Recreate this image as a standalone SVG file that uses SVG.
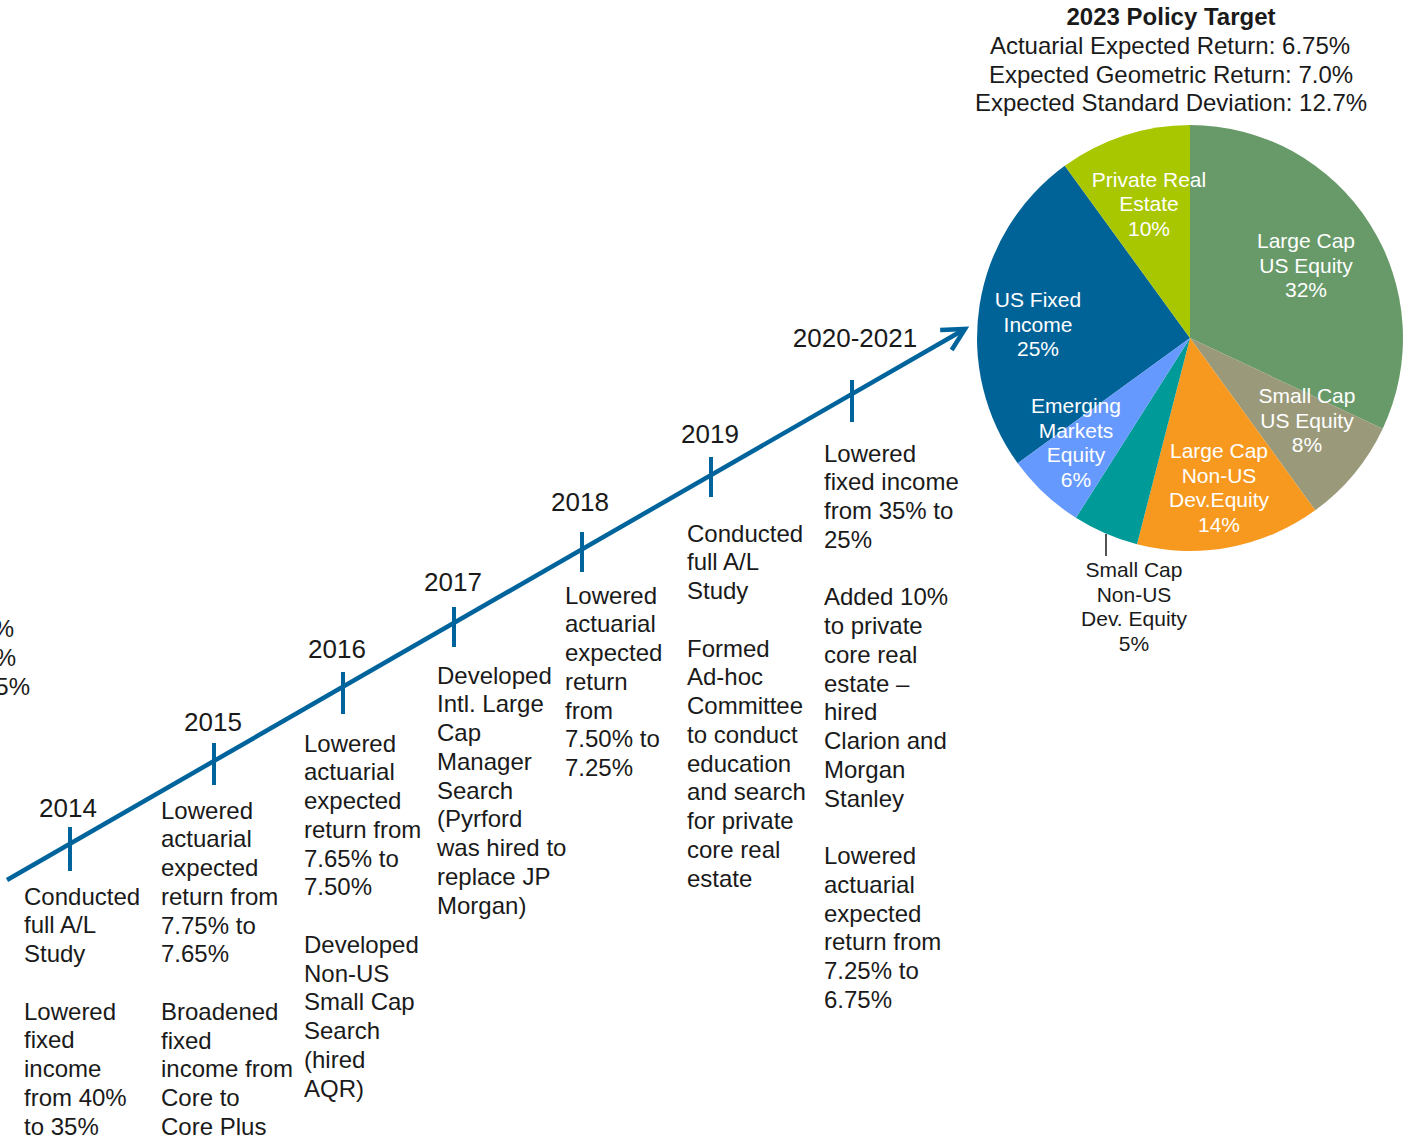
<svg xmlns="http://www.w3.org/2000/svg" width="1412" height="1136" viewBox="0 0 1412 1136">
<defs>
<style>
text{font-family:"Liberation Sans",Arial,sans-serif;fill:#1a1a1a}
.t{font-size:24px}
.yr{font-size:26px;text-anchor:middle}
.hd{font-size:24px;text-anchor:middle}
.pl{font-size:21px;fill:#fff;text-anchor:middle}
.pk{font-size:21px;text-anchor:middle}
.tick{stroke:#00649c;stroke-width:4;fill:none}
.axis{stroke:#00649c;stroke-width:4.5;fill:none}
</style>
<marker id="arr" markerUnits="userSpaceOnUse" viewBox="-30 -16 36 32" markerWidth="36" markerHeight="32" refX="0" refY="0" orient="auto">
<path d="M-22,-11.5 L0,0 L-22,11.5" fill="none" stroke="#00649c" stroke-width="4.5" stroke-linejoin="miter"/>
</marker>
</defs>
<rect width="1412" height="1136" fill="#fff"/>

<g id="connectors">
<line class="axis" x1="7" y1="880" x2="965" y2="329" marker-end="url(#arr)"/>
</g>

<g id="clipped-left">
<text class="t" text-anchor="end" x="14" y="636.5">%</text>
<text class="t" text-anchor="end" x="16" y="665.5">%</text>
<text class="t" text-anchor="end" x="30" y="694.5">5%</text>
</g>

<g id="m2014">
<line class="tick" x1="70" y1="827" x2="70" y2="871"/>
<text class="yr" x="68" y="817">2014</text>
<text class="t" x="24" y="904.5"><tspan x="24">Conducted</tspan><tspan x="24" dy="28.75">full A/L</tspan><tspan x="24" dy="28.75">Study</tspan><tspan x="24" dy="57.5">Lowered</tspan><tspan x="24" dy="28.75">fixed</tspan><tspan x="24" dy="28.75">income</tspan><tspan x="24" dy="28.75">from 40%</tspan><tspan x="24" dy="28.75">to 35%</tspan></text>
</g>

<g id="m2015">
<line class="tick" x1="214" y1="743" x2="214" y2="785"/>
<text class="yr" x="213" y="731">2015</text>
<text class="t" x="161" y="818.5"><tspan x="161">Lowered</tspan><tspan x="161" dy="28.75">actuarial</tspan><tspan x="161" dy="28.75">expected</tspan><tspan x="161" dy="28.75">return from</tspan><tspan x="161" dy="28.75">7.75% to</tspan><tspan x="161" dy="28.75">7.65%</tspan><tspan x="161" dy="57.5">Broadened</tspan><tspan x="161" dy="28.75">fixed</tspan><tspan x="161" dy="28.75">income from</tspan><tspan x="161" dy="28.75">Core to</tspan><tspan x="161" dy="28.75">Core Plus</tspan></text>
</g>

<g id="m2016">
<line class="tick" x1="343" y1="672" x2="343" y2="714"/>
<text class="yr" x="337" y="658">2016</text>
<text class="t" x="304" y="751.5"><tspan x="304">Lowered</tspan><tspan x="304" dy="28.75">actuarial</tspan><tspan x="304" dy="28.75">expected</tspan><tspan x="304" dy="28.75">return from</tspan><tspan x="304" dy="28.75">7.65% to</tspan><tspan x="304" dy="28.75">7.50%</tspan><tspan x="304" dy="57.5">Developed</tspan><tspan x="304" dy="28.75">Non-US</tspan><tspan x="304" dy="28.75">Small Cap</tspan><tspan x="304" dy="28.75">Search</tspan><tspan x="304" dy="28.75">(hired</tspan><tspan x="304" dy="28.75">AQR)</tspan></text>
</g>

<g id="m2017">
<line class="tick" x1="454" y1="607" x2="454" y2="647"/>
<text class="yr" x="453" y="591">2017</text>
<text class="t" x="437" y="683.5"><tspan x="437">Developed</tspan><tspan x="437" dy="28.75">Intl. Large</tspan><tspan x="437" dy="28.75">Cap</tspan><tspan x="437" dy="28.75">Manager</tspan><tspan x="437" dy="28.75">Search</tspan><tspan x="437" dy="28.75">(Pyrford</tspan><tspan x="437" dy="28.75">was hired to</tspan><tspan x="437" dy="28.75">replace JP</tspan><tspan x="437" dy="28.75">Morgan)</tspan></text>
</g>

<g id="m2018">
<line class="tick" x1="582" y1="532" x2="582" y2="572"/>
<text class="yr" x="580" y="511">2018</text>
<text class="t" x="565" y="603.5"><tspan x="565">Lowered</tspan><tspan x="565" dy="28.75">actuarial</tspan><tspan x="565" dy="28.75">expected</tspan><tspan x="565" dy="28.75">return</tspan><tspan x="565" dy="28.75">from</tspan><tspan x="565" dy="28.75">7.50% to</tspan><tspan x="565" dy="28.75">7.25%</tspan></text>
</g>

<g id="m2019">
<line class="tick" x1="711" y1="457" x2="711" y2="497"/>
<text class="yr" x="710" y="443">2019</text>
<text class="t" x="687" y="541.5"><tspan x="687">Conducted</tspan><tspan x="687" dy="28.75">full A/L</tspan><tspan x="687" dy="28.75">Study</tspan><tspan x="687" dy="57.5">Formed</tspan><tspan x="687" dy="28.75">Ad-hoc</tspan><tspan x="687" dy="28.75">Committee</tspan><tspan x="687" dy="28.75">to conduct</tspan><tspan x="687" dy="28.75">education</tspan><tspan x="687" dy="28.75">and search</tspan><tspan x="687" dy="28.75">for private</tspan><tspan x="687" dy="28.75">core real</tspan><tspan x="687" dy="28.75">estate</tspan></text>
</g>

<g id="m2020">
<line class="tick" x1="852" y1="380" x2="852" y2="422"/>
<text class="yr" x="855" y="347">2020-2021</text>
<text class="t" x="824" y="461.5"><tspan x="824">Lowered</tspan><tspan x="824" dy="28.75">fixed income</tspan><tspan x="824" dy="28.75">from 35% to</tspan><tspan x="824" dy="28.75">25%</tspan><tspan x="824" dy="57.5">Added 10%</tspan><tspan x="824" dy="28.75">to private</tspan><tspan x="824" dy="28.75">core real</tspan><tspan x="824" dy="28.75">estate –</tspan><tspan x="824" dy="28.75">hired</tspan><tspan x="824" dy="28.75">Clarion and</tspan><tspan x="824" dy="28.75">Morgan</tspan><tspan x="824" dy="28.75">Stanley</tspan><tspan x="824" dy="57.5">Lowered</tspan><tspan x="824" dy="28.75">actuarial</tspan><tspan x="824" dy="28.75">expected</tspan><tspan x="824" dy="28.75">return from</tspan><tspan x="824" dy="28.75">7.25% to</tspan><tspan x="824" dy="28.75">6.75%</tspan></text>
</g>

<g id="policy-title">
<text class="hd" x="1171" y="24.5" font-weight="bold">2023 Policy Target</text>
<text class="hd" x="1170" y="53.5">Actuarial Expected Return: 6.75%</text>
<text class="hd" x="1171" y="82.5">Expected Geometric Return: 7.0%</text>
<text class="hd" x="1171" y="111">Expected Standard Deviation: 12.7%</text>
</g>

<g id="pie">
<g id="s-lcus">
<path d="M1190,338 L1190,125 A213,213 0 0 1 1382.7,428.7 Z" fill="#679a68"/>
<text class="pl" x="1306" y="248"><tspan x="1306">Large Cap</tspan><tspan x="1306" dy="24.7">US Equity</tspan><tspan x="1306" dy="24.7">32%</tspan></text>
</g>
<g id="s-scus">
<path d="M1190,338 L1382.7,428.7 A213,213 0 0 1 1315.2,510.3 Z" fill="#9a9a7a"/>
<text class="pl" x="1307" y="403"><tspan x="1307">Small Cap</tspan><tspan x="1307" dy="24.7">US Equity</tspan><tspan x="1307" dy="24.7">8%</tspan></text>
</g>
<g id="s-lcnus">
<path d="M1190,338 L1315.2,510.3 A213,213 0 0 1 1137,544.3 Z" fill="#f7991f"/>
<text class="pl" x="1219" y="458"><tspan x="1219">Large Cap</tspan><tspan x="1219" dy="24.5">Non-US</tspan><tspan x="1219" dy="24.5">Dev.Equity</tspan><tspan x="1219" dy="24.5">14%</tspan></text>
</g>
<g id="s-scnus">
<path d="M1190,338 L1137,544.3 A213,213 0 0 1 1075.9,517.8 Z" fill="#009a98"/>
<line x1="1106" y1="534" x2="1106" y2="556" stroke="#1a1a1a" stroke-width="1.5"/>
<text class="pk" x="1134" y="577"><tspan x="1134">Small Cap</tspan><tspan x="1134" dy="24.7">Non-US</tspan><tspan x="1134" dy="24.7">Dev. Equity</tspan><tspan x="1134" dy="24.7">5%</tspan></text>
</g>
<g id="s-usfi">
<path d="M1190,338 L1017.7,463.2 A213,213 0 0 1 1064.8,165.7 Z" fill="#006398"/>
<text class="pl" x="1038" y="307"><tspan x="1038">US Fixed</tspan><tspan x="1038" dy="24.7">Income</tspan><tspan x="1038" dy="24.7">25%</tspan></text>
</g>
<g id="s-em">
<path d="M1190,338 L1075.9,517.8 A213,213 0 0 1 1017.7,463.2 Z" fill="#6699fe"/>
<text class="pl" x="1076" y="413"><tspan x="1076">Emerging</tspan><tspan x="1076" dy="24.5">Markets</tspan><tspan x="1076" dy="24.5">Equity</tspan><tspan x="1076" dy="24.5">6%</tspan></text>
</g>
<g id="s-pre">
<path d="M1190,338 L1064.8,165.7 A213,213 0 0 1 1190,125 Z" fill="#a9c700"/>
<text class="pl" x="1149" y="186.5"><tspan x="1149">Private Real</tspan><tspan x="1149" dy="24.5">Estate</tspan><tspan x="1149" dy="24.5">10%</tspan></text>
</g>
</g>
</svg>
